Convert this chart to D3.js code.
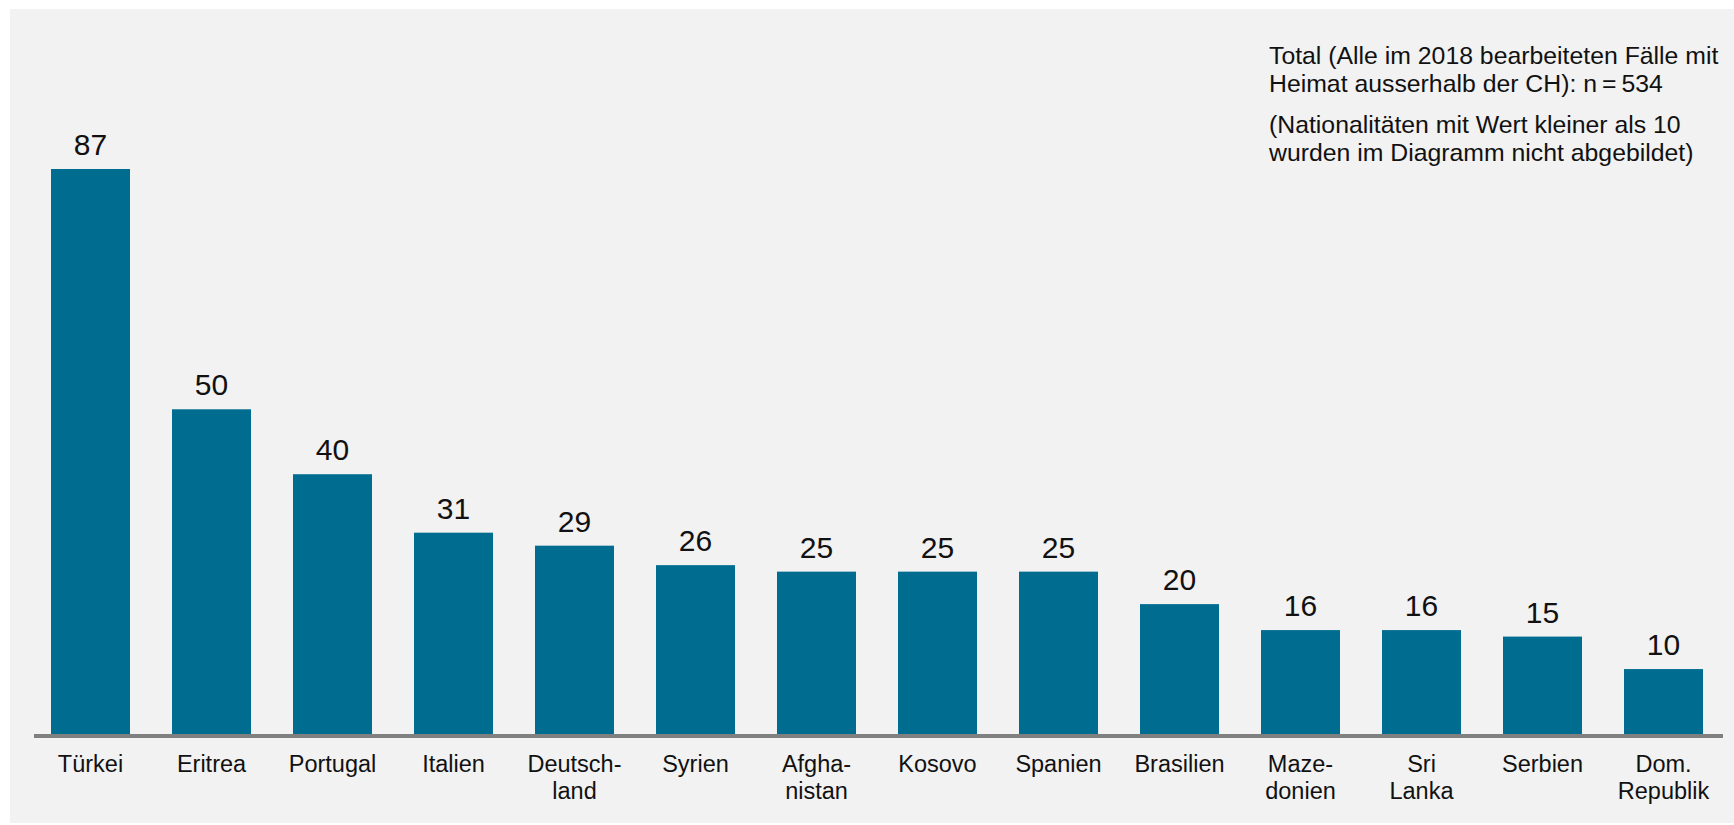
<!DOCTYPE html>
<html>
<head>
<meta charset="utf-8">
<script src="https://cdn.jsdelivr.net/npm/d3@7"></script>
<style>
  html, body { margin: 0; padding: 0; background: #ffffff; }
  svg { display: block; }
  text { font-family: "Liberation Sans", Arial, Helvetica, sans-serif; fill: #111; }
</style>
</head>
<body>
<svg id="chart" width="1734" height="825"></svg>
<script>
const categories = ["Türkei", "Eritrea", "Portugal", "Italien", "Deutsch-\nland", "Syrien", "Afgha-\nnistan", "Kosovo", "Spanien", "Brasilien", "Maze-\ndonien", "Sri\nLanka", "Serbien", "Dom.\nRepublik"];
const values = [87, 50, 40, 31, 29, 26, 25, 25, 25, 20, 16, 16, 15, 10];
const noteLines1 = ["Total (Alle im 2018 bearbeiteten Fälle mit", "Heimat ausserhalb der CH): n\u2009=\u2009534"];
const noteLines2 = ["(Nationalitäten mit Wert kleiner als 10", "wurden im Diagramm nicht abgebildet)"];

const svg = d3.select("#chart");
const W = 1734, H = 825;

// panel background
svg.append("rect").attr("x", 10).attr("y", 9).attr("width", W - 10).attr("height", H - 11).attr("fill", "#f2f2f2");

const baseY = 734;
const x = d3.scaleBand().domain(categories).range([30, 1724]).paddingInner(0.347).paddingOuter(0.1735);
const y = d3.scaleLinear().domain([0, 87]).range([baseY, 169]);

const data = categories.map((c, i) => ({ c, v: values[i] }));

svg.append("g").selectAll("rect").data(data).join("rect")
  .attr("x", d => x(d.c))
  .attr("y", d => y(d.v))
  .attr("width", x.bandwidth())
  .attr("height", d => y(0) - y(d.v))
  .attr("fill", "#006c8f");

// baseline axis
const axis = svg.append("g").attr("transform", `translate(0,${baseY + 2})`)
  .call(d3.axisBottom(x).tickSize(0).tickFormat(""));
axis.select(".domain").attr("d", "M34,0H1723").attr("stroke", "#808080").attr("stroke-width", 4);

// value labels
svg.append("g").selectAll("text").data(data).join("text")
  .attr("x", d => x(d.c) + x.bandwidth() / 2)
  .attr("y", d => y(d.v) - 14)
  .attr("text-anchor", "middle")
  .attr("font-size", 30)
  .text(d => d.v);

// category labels
const cl = svg.append("g").selectAll("text").data(data).join("text")
  .attr("x", d => x(d.c) + x.bandwidth() / 2)
  .attr("y", 772)
  .attr("text-anchor", "middle")
  .attr("font-size", 23.5);
cl.each(function(d) {
  const parts = d.c.split("\n");
  const t = d3.select(this);
  parts.forEach((p, i) => {
    t.append("tspan").attr("x", x(d.c) + x.bandwidth() / 2).attr("dy", i === 0 ? 0 : 26.5).text(p);
  });
});

// note
const note = svg.append("g").attr("font-size", 24.8);
noteLines1.forEach((l, i) => note.append("text").attr("x", 1269).attr("y", 64 + i * 28).text(l));
noteLines2.forEach((l, i) => note.append("text").attr("x", 1269).attr("y", 133 + i * 28).text(l));
</script>
</body>
</html>
